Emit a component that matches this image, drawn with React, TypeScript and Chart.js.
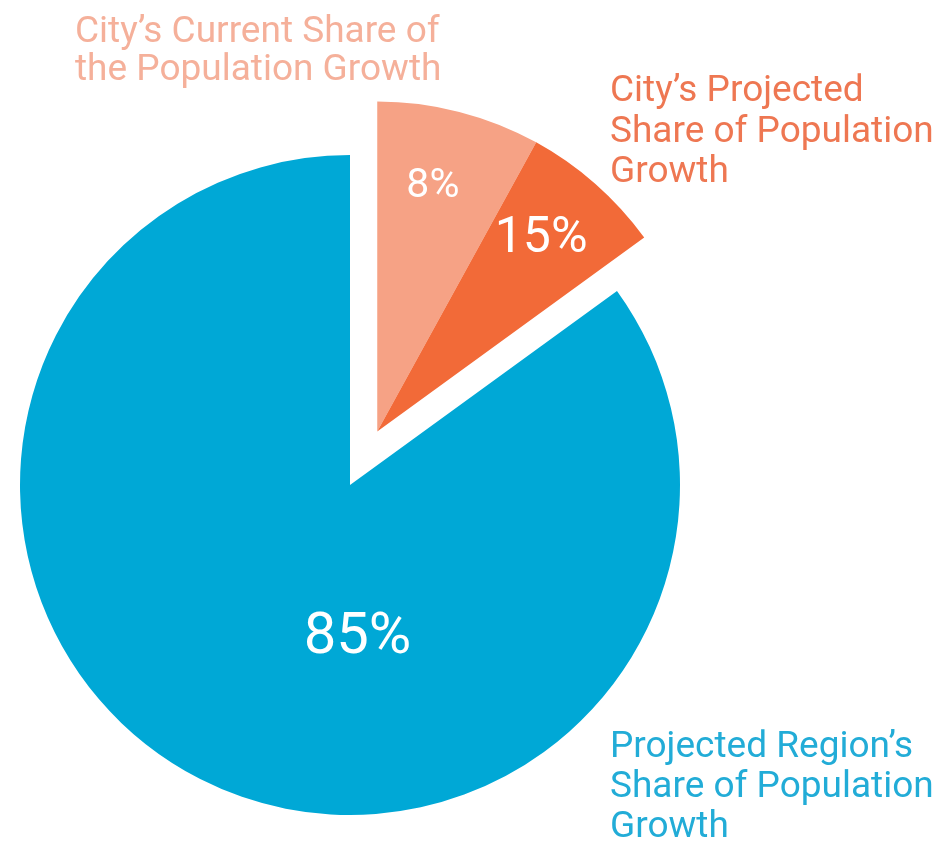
import React, { useEffect, useRef } from "react";
import { Chart, registerables } from "chart.js";

Chart.register(...registerables);

// ---- data ----
const categories = [
  "City's Current Share of the Population Growth",
  "City's Projected Share of Population Growth",
  "Projected Region's Share of Population Growth",
];
const cityCurrentShare = 8;
const cityProjectedShare = 15;
const regionProjectedShare = 85;
const valueLabels = ["8%", "15%", "85%"];

// ---- layout / style ----
const W = 951;
const H = 846;
const CX = 350;
const CY = 485;
const R = 330;
const EXPLODE = 60;
const BLUE = "#00a8d6";
const ORANGE = "#f26a38";
const SALMON = "#f6a285";
const FONT = "Roboto, 'Noto Sans', sans-serif";

const total = cityProjectedShare + regionProjectedShare;
const explodeAngle = (cityProjectedShare / total) * Math.PI; // bisector, clockwise from top
const CX2 = CX + EXPLODE * Math.sin(explodeAngle);
const CY2 = CY - EXPLODE * Math.cos(explodeAngle);

function padFor(cx: number, cy: number) {
  return {
    left: Math.max(0, 2 * cx - W),
    right: Math.max(0, W - 2 * cx),
    top: Math.max(0, 2 * cy - H),
    bottom: Math.max(0, H - 2 * cy),
  };
}

type LabelSpec = { index: number; text: string; size: number; rFrac: number; angleDeg?: number };

function labelPlugin(id: string, labels: LabelSpec[]) {
  return {
    id,
    afterDatasetsDraw(chart: any) {
      const meta = chart.getDatasetMeta(0);
      const ctx = chart.ctx as CanvasRenderingContext2D;
      ctx.save();
      labels.forEach((l) => {
        const arc = meta.data[l.index];
        const p = arc.getProps(["x", "y", "startAngle", "endAngle", "outerRadius"], true);
        const a =
          l.angleDeg !== undefined ? (l.angleDeg * Math.PI) / 180 - Math.PI / 2 : (p.startAngle + p.endAngle) / 2;
        const r = p.outerRadius * l.rFrac;
        const x = p.x + Math.cos(a) * r;
        const y = p.y + Math.sin(a) * r;
        ctx.fillStyle = "#ffffff";
        ctx.font = `400 ${l.size}px ${FONT}`;
        ctx.textAlign = "center";
        ctx.textBaseline = "alphabetic";
        ctx.fillText(l.text, x, y + l.size * 0.355);
      });
      ctx.restore();
    },
  };
}

function baseOptions(cx: number, cy: number): any {
  return {
    responsive: false,
    animation: false,
    devicePixelRatio: 1,
    events: [],
    radius: R,
    layout: { padding: padFor(cx, cy) },
    plugins: { legend: { display: false }, tooltip: { enabled: false }, title: { display: false } },
    elements: { arc: { borderWidth: 0 } },
  };
}

export default function App() {
  const refA = useRef<HTMLCanvasElement | null>(null);
  const refB = useRef<HTMLCanvasElement | null>(null);

  useEffect(() => {
    if (!refA.current || !refB.current) return;
    // Region share (main pie)
    const chartA = new Chart(refA.current, {
      type: "pie",
      data: {
        labels: [categories[1], categories[2]],
        datasets: [
          {
            data: [cityProjectedShare, regionProjectedShare],
            backgroundColor: ["rgba(0,0,0,0)", BLUE],
            borderWidth: 0,
            radius: R,
          } as any,
        ],
      },
      options: baseOptions(CX, CY),
      plugins: [labelPlugin("lblA", [{ index: 1, text: valueLabels[2], size: 58, rFrac: 0.4475, angleDeg: 177.1 }])],
    });
    // Exploded city wedge
    const chartB = new Chart(refB.current, {
      type: "pie",
      data: {
        labels: categories,
        datasets: [
          {
            data: [cityCurrentShare, cityProjectedShare - cityCurrentShare, regionProjectedShare],
            backgroundColor: [SALMON, ORANGE, "rgba(0,0,0,0)"],
            borderWidth: 0,
            radius: R,
          } as any,
        ],
      },
      options: baseOptions(CX2, CY2),
      plugins: [
        labelPlugin("lblB", [
          { index: 0, text: valueLabels[0], size: 41, rFrac: 0.773, angleDeg: 12.6 },
          { index: 1, text: valueLabels[1], size: 50, rFrac: 0.7776, angleDeg: 39.7 },
        ]),
      ],
    });
    return () => {
      chartA.destroy();
      chartB.destroy();
    };
  }, []);

  const textBase: React.CSSProperties = {
    position: "absolute",
    fontFamily: FONT,
    fontSize: 37,
    whiteSpace: "nowrap",
    fontWeight: 400,
  };

  return (
    <div style={{ position: "absolute", left: 0, top: 0, width: W, height: H, background: "#fff", overflow: "hidden" }}>
      <canvas ref={refA} width={W} height={H} style={{ position: "absolute", left: 0, top: 0 }} />
      <canvas ref={refB} width={W} height={H} style={{ position: "absolute", left: 0, top: 0 }} />
      <div style={{ ...textBase, left: 75, top: 11, lineHeight: "38px", color: "#f5b09a" }}>
        City’s Current Share of
        <br />
        the Population Growth
      </div>
      <div style={{ ...textBase, left: 610, top: 69, lineHeight: "40.5px", color: "#ee7752" }}>
        City’s Projected
        <br />
        Share of Population
        <br />
        Growth
      </div>
      <div style={{ ...textBase, left: 610, top: 725, lineHeight: "40px", color: "#22acd7" }}>
        Projected Region’s
        <br />
        Share of Population
        <br />
        Growth
      </div>
    </div>
  );
}
